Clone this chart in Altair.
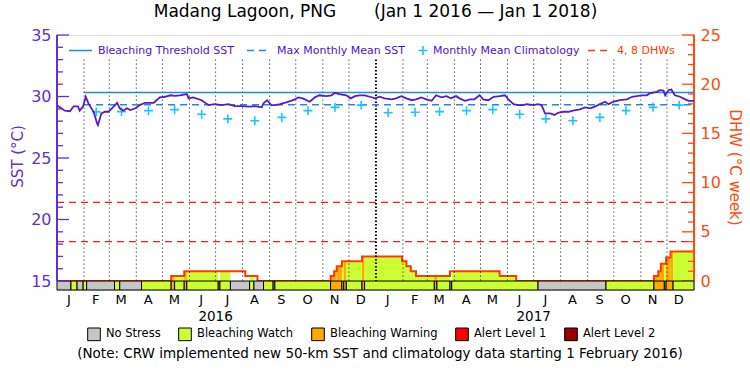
import altair as alt
import pandas as pd

FONT = "DejaVu Sans"
START = pd.Timestamp("2016-01-01")


def day_to_date(d):
    return (START + pd.Timedelta(days=int(d))).strftime("%Y-%m-%d")


# ---------------- data ----------------
# daily SST (days since 1 Jan 2016, degC)
sst_days = [0, 5, 9, 15, 19, 24, 26, 30, 33, 36, 42, 46, 47, 51, 55, 59, 63, 69, 72, 76, 80, 84, 90, 95,
            101, 111, 118, 124, 130, 135, 141, 149, 151, 156, 166, 174, 181, 189, 197, 204, 212, 221, 227,
            235, 237, 241, 246, 250, 256, 259, 265, 271, 277, 282, 290, 296, 301, 309, 315, 319, 324, 332,
            337, 342, 347, 353, 359, 365, 370, 376, 384, 389, 395, 401, 407, 412, 418, 424, 430, 435, 441,
            447, 452, 458, 462, 468, 474, 479, 485, 489, 495, 501, 508, 514, 518, 524, 529, 535, 539, 547,
            552, 556, 560, 566, 571, 575, 581, 587, 592, 600, 606, 612, 617, 623, 629, 633, 638, 646, 654,
            660, 665, 671, 677, 680, 688, 692, 696, 698, 702, 705, 709, 715, 721, 725, 731]
sst_vals = [29.30, 29.04, 28.85, 28.80, 29.20, 29.20, 28.85, 29.20, 29.98, 29.44, 28.76, 27.82, 27.68,
            28.63, 28.76, 28.76, 29.04, 29.49, 29.04, 28.85, 29.04, 28.90, 29.04, 29.30, 29.49, 29.49,
            29.93, 29.98, 30.10, 30.05, 30.10, 30.20, 29.85, 29.93, 29.70, 29.30, 29.38, 29.30, 29.38,
            29.22, 29.22, 29.17, 29.22, 29.12, 29.44, 29.70, 29.30, 29.30, 29.38, 29.44, 29.57, 29.70,
            29.93, 29.85, 29.57, 29.93, 30.10, 30.03, 30.10, 30.30, 30.20, 30.10, 29.85, 30.03, 30.10,
            30.10, 29.98, 29.85, 29.98, 29.85, 29.77, 29.85, 30.03, 29.85, 29.70, 29.77, 29.93, 29.77,
            29.65, 30.10, 29.93, 30.03, 29.85, 30.03, 29.85, 29.65, 29.77, 29.77, 30.10, 29.77, 29.70,
            29.98, 30.03, 30.10, 29.77, 29.38, 29.30, 29.30, 29.38, 29.30, 29.38, 29.30, 28.63, 28.63,
            28.50, 28.68, 28.76, 28.76, 28.85, 28.96, 29.12, 29.04, 29.17, 29.38, 29.57, 29.38, 29.57,
            29.70, 29.77, 29.98, 30.03, 30.10, 30.10, 30.25, 30.38, 30.52, 30.48, 30.10, 30.52, 30.57,
            30.10, 29.98, 29.77, 29.65, 29.65]

# monthly mean climatology (mid-month markers, Feb 2016 - Dec 2017)
clim_months = ["2016-02", "2016-03", "2016-04", "2016-05", "2016-06", "2016-07", "2016-08", "2016-09",
               "2016-10", "2016-11", "2016-12", "2017-01", "2017-02", "2017-03", "2017-04", "2017-05",
               "2017-06", "2017-07", "2017-08", "2017-09", "2017-10", "2017-11", "2017-12"]
clim_vals = [28.75, 28.77, 28.85, 28.93, 28.56, 28.18, 28.03, 28.30, 28.85, 29.12, 29.30, 28.68,
             28.72, 28.77, 28.85, 28.93, 28.56, 28.18, 28.03, 28.30, 28.85, 29.12, 29.30]

MMM = 29.33
THRESHOLD = 30.33
CLIM_START = "2016-02-01"

# degree heating weeks (step values holding from each day until the next)
dhw_days = [0, 131, 146, 216, 230, 314, 318, 321, 327, 350, 396, 401, 406, 412, 451, 508, 527,
            685, 690, 693, 699, 704, 731]
dhw_vals = [0, 0.5, 1.0, 0.5, 0, 0.5, 1.0, 1.5, 2.0, 2.5, 2.0, 1.5, 1.0, 0.5, 1.0, 0.5, 0,
            0.5, 1.0, 1.75, 2.4, 3.0, 3.0]
dhw_levels = [4, 8]

# daily alert status segments
status_names = ["No Stress", "Bleaching Watch", "Bleaching Warning", "Alert Level 1", "Alert Level 2"]
status_colors = ["#c6c6c6", "#ccff33", "#ffaa00", "#ff0000", "#990000"]
seg_start = [0, 16, 23, 30, 34, 66, 72, 97, 131, 135, 146, 149, 185, 187, 199, 221, 226, 237, 248,
             250, 314, 327, 329, 332, 350, 353, 433, 436, 451, 453, 552, 630, 685, 697, 699, 707]
seg_end = [16, 23, 30, 34, 66, 72, 97, 131, 135, 146, 149, 185, 187, 199, 221, 226, 237, 248, 250,
           314, 327, 329, 332, 350, 353, 433, 436, 451, 453, 552, 630, 685, 697, 699, 707, 731]
seg_level = [0, 1, 0, 1, 0, 1, 0, 1, 2, 1, 2, 1, 0, 1, 0, 1, 0, 1, 0,
             1, 2, 1, 2, 1, 2, 1, 2, 1, 0, 1, 0, 1, 2, 1, 2, 1]

grid_months = [d.strftime("%Y-%m-%d") for d in pd.date_range("2016-02-01", "2017-12-01", freq="MS")]
year_labels = ["2016", "2017"]
year_pos = ["2016-07-01", "2017-07-01"]

# ---------------- scales & styles ----------------
SST_MIN, SST_MAX = 14.27, 35.0
DHW_MIN, DHW_MAX = (SST_MIN - 15.0) * 1.25, 25.0

xscale = alt.Scale(type="utc", nice=False,
                   domain=[alt.DateTime(year=2016, month=1, date=1, utc=True),
                           alt.DateTime(year=2018, month=1, date=1, utc=True)])
yscale = alt.Scale(domain=[SST_MIN, SST_MAX], nice=False, zero=False)
dscale = alt.Scale(domain=[DHW_MIN, DHW_MAX], nice=False, zero=False)

PURPLE = "#6330cf"
SST_COL = "#5a1cc2"
BLUE = "#1e8ae6"
CYAN = "#19c4ff"
ORANGE_AX = "#ff4a10"
DHW_LINE = "#ff3c00"
DHW_DASH = "#ff1a1a"
LEG_TXT = "#4f12cc"

W, H = 637, 255

month_vals = [alt.DateTime(year=d.year, month=d.month, date=14, utc=True)
              for d in pd.date_range("2016-01-01", "2017-12-01", freq="MS")]

AX_X = alt.Axis(values=month_vals, labelExpr="substring(utcFormat(datum.value, '%b'), 0, 1)",
                ticks=False, domain=False, grid=False, labelFont=FONT, labelFontSize=13,
                labelColor="black", labelPadding=3, labelOverlap=False, labelFlush=False,
                title=None, orient="bottom")
AX_L = alt.Axis(orient="left", values=[15, 20, 25, 30, 35], ticks=False, domain=False, grid=False,
                labelColor=PURPLE, labelFont=FONT, labelFontSize=16, labelPadding=6,
                title="SST (\u00b0C)", titleColor=PURPLE, titleFont=FONT, titleFontSize=15,
                titleFontWeight="normal", titleX=-40, titleY=121, titleAngle=270,
                titleAlign="center", titleBaseline="middle")
AX_R = alt.Axis(orient="right", values=[0, 5, 10, 15, 20, 25], ticks=False, domain=False, grid=False,
                labelColor=ORANGE_AX, labelFont=FONT, labelFontSize=16, labelPadding=6,
                title="DHW (\u00b0C week)", titleColor=ORANGE_AX, titleFont=FONT, titleFontSize=15,
                titleFontWeight="normal", titleX=40, titleY=132, titleAngle=90,
                titleAlign="center", titleBaseline="middle")


def X(field):
    return alt.X(field, scale=xscale, axis=AX_X, title=None)


def YL(field):
    return alt.Y(field, scale=yscale, axis=AX_L, title="SST (\u00b0C)")


def YR(field):
    return alt.Y(field, scale=dscale, axis=AX_R, title="DHW (\u00b0C week)")


# ---------------- frames ----------------
sst_df = pd.DataFrame({"date": [day_to_date(d) for d in sst_days], "sst": sst_vals})
clim_df = pd.DataFrame({"date": [m + "-15" for m in clim_months], "clim": clim_vals})
ref_df = pd.DataFrame({"start": [CLIM_START, CLIM_START], "end": ["2018-01-01", "2018-01-01"],
                       "val": [THRESHOLD, MMM], "kind": ["thr", "mmm"]})
dhw_df = pd.DataFrame({"date": [day_to_date(d) for d in dhw_days], "dhw": dhw_vals})
seg_df = pd.DataFrame({"start": [day_to_date(d) for d in seg_start],
                       "end": [day_to_date(d) for d in seg_end],
                       "status": [status_names[i] for i in seg_level],
                       "top": 15.0, "bottom": SST_MIN})

fill_rows = []
for s, e, lv in zip(seg_start, seg_end, seg_level):
    if lv == 0:
        continue
    for i in range(len(dhw_days) - 1):
        a = max(s, dhw_days[i])
        b = min(e, dhw_days[i + 1])
        if b > a and dhw_vals[i] > 0:
            fill_rows.append({"start": day_to_date(a), "end": day_to_date(b),
                              "dhw": dhw_vals[i], "zero": 0.0, "status": status_names[lv]})
fill_df = pd.DataFrame(fill_rows)

grid_df = pd.DataFrame({"date": grid_months, "top": 33.0, "bottom": 15.0})
grid_main = grid_df[grid_df["date"] != "2017-01-01"]
grid_year = grid_df[grid_df["date"] == "2017-01-01"]

sst_ticks = pd.DataFrame({"v": list(range(15, 36))})
dhw_ticks = pd.DataFrame({"v": list(range(0, 26))})
dhwlev_df = pd.DataFrame({"start": ["2016-01-01"] * 2, "end": ["2018-01-01"] * 2, "v": dhw_levels})
year_df = pd.DataFrame({"date": year_pos, "label": year_labels})

LEGEND = alt.Legend(orient="none", legendX=30, legendY=292, direction="horizontal", title=None,
                    symbolType="square", symbolSize=160, symbolStrokeColor="black",
                    symbolStrokeWidth=1, symbolOpacity=1, labelFont=FONT, labelFontSize=11.5,
                    labelColor="black", columnPadding=15, labelOffset=5, labelLimit=300)
color_enc = alt.Color("status:N", scale=alt.Scale(domain=status_names, range=status_colors),
                      legend=LEGEND)

# ---------------- DHW group (right axis) ----------------
dhw_fill = alt.Chart(fill_df).mark_rect().encode(
    x=X("start:T"), x2="end:T", y=YR("dhw:Q"), y2="zero:Q", color=color_enc)
dhw_line = alt.Chart(dhw_df).mark_line(interpolate="step-after", color=DHW_LINE, strokeWidth=2).encode(
    x=X("date:T"), y=YR("dhw:Q"))
dhw_lev = alt.Chart(dhwlev_df).mark_rule(color=DHW_DASH, strokeDash=[7, 5], strokeWidth=1.3).encode(
    x=X("start:T"), x2="end:T", y=YR("v:Q"))
dhw_tick_major = alt.Chart(dhw_ticks).transform_filter("datum.v % 5 == 0").mark_rule(
    color=ORANGE_AX, strokeWidth=1.3).encode(x=alt.value(W - 12), x2=alt.value(W), y=YR("v:Q"))
dhw_tick_minor = alt.Chart(dhw_ticks).transform_filter("datum.v % 5 != 0").mark_rule(
    color=ORANGE_AX, strokeWidth=1.3).encode(x=alt.value(W - 6), x2=alt.value(W), y=YR("v:Q"))
dhw_domain = alt.Chart(pd.DataFrame({"a": [0.0], "b": [25.0]})).mark_rule(
    color=ORANGE_AX, strokeWidth=2).encode(x=alt.value(W), y=YR("a:Q"), y2="b:Q")

dhw_group = alt.layer(dhw_fill, dhw_line, dhw_lev, dhw_tick_major, dhw_tick_minor, dhw_domain)

# ---------------- SST group (left axis) ----------------
grid1 = alt.Chart(grid_main).mark_rule(color="black", strokeDash=[1, 3], strokeWidth=1).encode(
    x=X("date:T"), y=YL("top:Q"), y2="bottom:Q")
grid2 = alt.Chart(grid_year).mark_rule(color="black", strokeDash=[1.5, 2], strokeWidth=2).encode(
    x=X("date:T"), y=YL("top:Q"), y2="bottom:Q")
thr = alt.Chart(ref_df[ref_df.kind == "thr"]).mark_rule(color=BLUE, strokeWidth=1.5).encode(
    x=X("start:T"), x2="end:T", y=YL("val:Q"))
mmm = alt.Chart(ref_df[ref_df.kind == "mmm"]).mark_rule(color=BLUE, strokeWidth=1.5,
                                                        strokeDash=[7, 5]).encode(
    x=X("start:T"), x2="end:T", y=YL("val:Q"))
PLUS = "M-1,0L1,0M0,-1L0,1"
clim = alt.Chart(clim_df).mark_point(shape=PLUS, filled=False, color=CYAN, strokeWidth=1.6,
                                     size=80, opacity=1).encode(x=X("date:T"), y=YL("clim:Q"))
sst_line = alt.Chart(sst_df).mark_line(color=SST_COL, strokeWidth=1.8).encode(
    x=X("date:T"), y=YL("sst:Q"))
strip = alt.Chart(seg_df).mark_rect(stroke="black", strokeWidth=1).encode(
    x=X("start:T"), x2="end:T", y=YL("top:Q"), y2="bottom:Q", color=color_enc)
sst_tick_major = alt.Chart(sst_ticks).transform_filter("datum.v % 5 == 0").mark_rule(
    color=PURPLE, strokeWidth=1.3).encode(x=alt.value(0), x2=alt.value(12), y=YL("v:Q"))
sst_tick_minor = alt.Chart(sst_ticks).transform_filter("datum.v % 5 != 0").mark_rule(
    color=PURPLE, strokeWidth=1.3).encode(x=alt.value(0), x2=alt.value(6), y=YL("v:Q"))
sst_domain = alt.Chart(pd.DataFrame({"a": [15.0], "b": [35.0]})).mark_rule(
    color=PURPLE, strokeWidth=2).encode(x=alt.value(0), y=YL("a:Q"), y2="b:Q")
years = alt.Chart(year_df).mark_text(font=FONT, fontSize=13.5, color="black", baseline="middle").encode(
    x=X("date:T"), y=alt.value(282), text="label:N")

one = alt.Data(values=[{"a": 1}])
LY = 15.5


def txt(s, x, color, size=11, align="left"):
    return alt.Chart(one).mark_text(text=s, font=FONT, fontSize=size, color=color, align=align,
                                    baseline="middle").encode(x=alt.value(x), y=alt.value(LY))


leg_items = [
    alt.Chart(one).mark_rule(color=BLUE, strokeWidth=1.5).encode(
        x=alt.value(12), x2=alt.value(35), y=alt.value(LY)),
    txt("Bleaching Threshold SST", 41, LEG_TXT),
    alt.Chart(one).mark_rule(color=BLUE, strokeWidth=1.5, strokeDash=[7, 5]).encode(
        x=alt.value(190), x2=alt.value(211), y=alt.value(LY)),
    txt("Max Monthly Mean SST", 220, LEG_TXT),
    alt.Chart(one).mark_point(shape=PLUS, filled=False, color=CYAN, strokeWidth=1.6, size=80,
                              opacity=1).encode(x=alt.value(366), y=alt.value(LY)),
    txt("Monthly Mean Climatology", 376, LEG_TXT),
    alt.Chart(one).mark_rule(color=DHW_LINE, strokeWidth=1.5, strokeDash=[7, 5]).encode(
        x=alt.value(531), x2=alt.value(555), y=alt.value(LY)),
    txt("4, 8 DHWs", 560, DHW_LINE),
]
note = alt.Chart(one).mark_text(
    text="(Note: CRW implemented new 50-km SST and climatology data starting 1 February 2016)",
    font=FONT, fontSize=13.5, color="black", align="center", baseline="middle").encode(
    x=alt.value(323), y=alt.value(319))

sst_group = alt.layer(grid1, grid2, thr, mmm, clim, sst_line, strip, sst_tick_major, sst_tick_minor,
                      sst_domain, years, *leg_items, note)

chart = alt.layer(dhw_group, sst_group).resolve_scale(y="independent").properties(
    width=W, height=H,
    autosize=alt.AutoSizeParams(type="none"),
    padding={"left": 57, "top": 35, "right": 56, "bottom": 85},
    title=alt.TitleParams(
        text="Madang Lagoon, PNG" + "\u00a0" * 7 + "(Jan 1 2016 \u2014 Jan 1 2018)",
        font=FONT, fontSize=17, fontWeight="normal", color="black", anchor="middle", offset=6),
).configure_view(stroke="black", strokeWidth=1).configure(background="white")

chart.save("out.html", embed_options={"renderer": "svg", "actions": False})
